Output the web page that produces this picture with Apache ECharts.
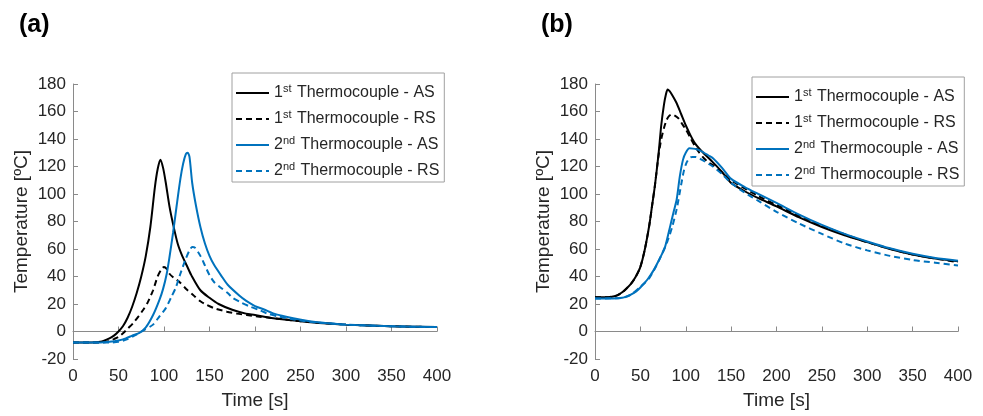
<!DOCTYPE html>
<html>
<head>
<meta charset="utf-8">
<script src="https://cdn.jsdelivr.net/npm/echarts@6/dist/echarts.min.js"></script>
<style>
html,body{margin:0;padding:0;background:#fff;}
#chart{width:983px;height:416px;}
</style>
</head>
<body>
<div id="chart"></div>
<script>
// ---------- Data ----------
const seriesNames = ['1st Thermocouple - AS', '1st Thermocouple - RS', '2nd Thermocouple - AS', '2nd Thermocouple - RS'];
const panelTitles = ['(a)', '(b)'];
const xTicks = { min: 0, max: 400, interval: 50 };
const yTicks = { min: -20, max: 180, interval: 20 };

// Panel (a)
const tA_1AS = [0, 20, 30, 40, 45, 50, 55, 60, 65, 70, 75, 80, 85, 90, 93, 96, 99, 102, 106, 110, 115, 120, 125, 130, 140, 150, 160, 175, 190, 200, 220, 250, 275, 300, 350, 400];
const vA_1AS = [-8, -8, -7.5, -5, -3, 0, 4, 10, 18, 28, 40, 55, 76, 105, 118, 125, 119, 108, 91, 78, 64, 55, 48, 41, 30, 24.5, 20, 15.8, 13, 12, 9.6, 7.5, 6, 5, 3.8, 3.2];

const tA_1RS = [0, 30, 40, 45, 50, 55, 60, 66, 72, 77, 82, 88, 93, 97, 100, 103, 106, 110, 117, 125, 132, 140, 147, 155, 169, 180, 191, 205, 230, 250, 300, 350, 400];
const vA_1RS = [-8, -8, -7, -5.5, -4, -1.3, 2, 6, 11, 15.6, 21, 30, 40, 45, 47, 45.5, 42, 39.5, 36, 30.5, 26.5, 22, 19.3, 17, 14.4, 13, 12, 10.8, 9, 7.5, 5, 3.8, 3.2];

const tA_2AS = [0, 30, 40, 50, 58, 65, 73, 80, 88, 95, 99, 103, 106, 110, 114, 118, 121, 124, 126, 128, 131, 135, 140, 145, 150, 155, 163, 170, 183, 190, 200, 210, 220, 242, 260, 280, 300, 350, 400];
const vA_2AS = [-8, -8, -7.5, -6.5, -5, -3, -1, 3, 12, 23, 31, 42, 54, 72, 92, 111, 122, 129, 130, 127, 108, 92, 76, 64, 55, 48.5, 40.5, 34, 26, 22.5, 18.5, 16, 13.2, 9.6, 7.5, 6, 5, 3.8, 3.2];

const tA_2RS = [0, 40, 50, 60, 69, 78, 88, 95, 102, 108, 113, 118, 124, 128, 131, 134, 140, 145, 150, 155, 161, 170, 176, 185, 195, 205, 213, 225, 240, 260, 280, 300, 350, 400];
const vA_2RS = [-8, -8, -7.5, -5.5, -2.5, 1, 5, 11, 17, 25, 32, 42, 53, 59, 61.5, 61, 55, 48, 41, 36, 32.6, 28, 24.2, 21, 18, 15.5, 13.2, 11, 9, 7, 6, 5, 3.8, 3.2];

// Panel (b)
const tB_1AS = [0, 15, 20, 25, 30, 35, 40, 45, 50, 55, 60, 63, 66, 70, 73, 76, 78, 80, 82, 85, 90, 95, 100, 105, 110, 115, 120, 130, 140, 150, 165, 180, 200, 225, 250, 275, 300, 325, 350, 375, 400];
const vB_1AS = [25, 25, 25.5, 26.5, 28.5, 31.5, 35, 40, 47, 60, 78, 92, 106, 129, 150, 165, 172, 176, 175, 172, 166, 158, 150, 143, 137, 133, 129.5, 123, 116, 108, 102, 97, 91, 83, 76, 70, 65, 60, 56, 53, 51];

const tB_1RS = [0, 15, 20, 25, 30, 35, 40, 45, 50, 55, 60, 63, 66, 70, 73, 76, 79, 82, 85, 88, 92, 96, 100, 105, 110, 115, 120, 125, 130, 140, 150, 180, 200, 250, 300, 350, 400];
const vB_1RS = [25, 25, 25.5, 26.5, 28.5, 31.5, 35, 40, 47, 60, 78, 92, 106, 128, 140, 148, 154, 157, 158, 157, 155, 151, 147, 141, 135, 130, 126, 123, 121, 115.5, 110, 98.5, 92, 77, 65, 56, 50.5];

const tB_2AS = [0, 20, 30, 35, 40, 45, 50, 58, 65, 72, 77, 83, 87, 90, 93.5, 97, 100, 104, 108, 112, 116, 120, 125, 130, 140, 150, 165, 180, 200, 225, 250, 275, 300, 325, 350, 375, 400];
const vB_2AS = [24, 24, 24.5, 25.5, 27, 29, 32, 38, 45, 54, 61, 77, 88, 96, 113, 125, 130, 133.2, 133, 132.5, 131.5, 130, 128, 126, 119, 111, 105, 100, 93.5, 85, 77.5, 71, 65.5, 60.5, 56.5, 53.5, 51.5];

const tB_2RS = [0, 30, 40, 50, 60, 70, 80, 85, 90, 95, 98, 101, 104, 107, 111, 115, 120, 125, 130, 140, 150, 165, 180, 200, 225, 250, 275, 300, 325, 350, 375, 400];
const vB_2RS = [24, 24.5, 27, 32.5, 39, 51, 66, 76, 89, 107, 117, 123, 126, 127, 127, 126, 124, 122, 120, 114.5, 108, 101, 95, 87, 78.5, 71, 64, 59, 55, 52, 50, 48];

// ---------- Build ----------
const BLUE = '#0072BD';
const BLACK = '#000000';
const TXT = '#262626';
const AX = '#8a8a8a';
const FONT = 'Liberation Sans, Arial, sans-serif';

function pairs(t, v) { return t.map((x, i) => [x, v[i]]); }

const panels = [
  [pairs(tA_1AS, vA_1AS), pairs(tA_1RS, vA_1RS), pairs(tA_2AS, vA_2AS), pairs(tA_2RS, vA_2RS)],
  [pairs(tB_1AS, vB_1AS), pairs(tB_1RS, vB_1RS), pairs(tB_2AS, vB_2AS), pairs(tB_2RS, vB_2RS)]
];
const styles = [
  { color: BLACK, type: 'solid' },
  { color: BLACK, type: [6, 4] },
  { color: BLUE, type: 'solid' },
  { color: BLUE, type: [6, 4] }
];

const grids = [
  { left: 73, right: 546, top: 84, bottom: 57 },
  { left: 595, right: 25, top: 84, bottom: 57 }
];

function xAxis(i) {
  return {
    gridIndex: i, type: 'value', min: xTicks.min, max: xTicks.max, interval: xTicks.interval,
    name: 'Time [s]', nameLocation: 'middle', nameGap: 32,
    nameTextStyle: { fontSize: 19, color: TXT, fontFamily: FONT },
    axisLine: { lineStyle: { color: AX, width: 1 } },
    axisTick: { inside: true, length: 5, lineStyle: { color: AX } },
    axisLabel: { fontSize: 17, color: TXT, fontFamily: FONT, margin: 9 },
    splitLine: { show: false }
  };
}
function yAxis(i) {
  return {
    gridIndex: i, type: 'value', min: yTicks.min, max: yTicks.max, interval: yTicks.interval,
    name: 'Temperature [ºC]', nameLocation: 'middle', nameGap: 42,
    nameTextStyle: { fontSize: 19, color: TXT, fontFamily: FONT },
    axisLine: { show: true, lineStyle: { color: AX, width: 1 } },
    axisTick: { show: true, inside: true, length: 5, lineStyle: { color: AX } },
    axisLabel: { fontSize: 17, color: TXT, fontFamily: FONT, margin: 7 },
    splitLine: { show: false }
  };
}

const series = [];
panels.forEach((p, gi) => {
  p.forEach((d, si) => {
    series.push({
      type: 'line', name: seriesNames[si], xAxisIndex: gi, yAxisIndex: gi,
      data: d, showSymbol: false, symbol: 'none', smooth: 0.25,
      lineStyle: { color: styles[si].color, type: styles[si].type, width: 2 },
      itemStyle: { color: styles[si].color },
      animation: false
    });
  });
});

function legend(left, top) {
  return {
    orient: 'vertical', left: left, top: top, data: seriesNames,
    itemWidth: 33, itemHeight: 14, itemGap: 7,
    padding: [10, 5, 2, 3],
    borderColor: '#a0a0a0', borderWidth: 1, backgroundColor: '#fff',
    selectedMode: false,
    itemStyle: { opacity: 0, borderWidth: 0 },
    formatter: function (name) {
      const m = name.match(/^(\d)(st|nd)( .*)$/);
      return m[1] + '{sup|' + m[2] + '}' + m[3];
    },
    textStyle: {
      fontSize: 16, color: TXT, fontFamily: FONT, lineHeight: 18,
      rich: { sup: { fontSize: 11, color: TXT, fontFamily: FONT, padding: [0, 1, 9, 0] } }
    }
  };
}

const option = {
  backgroundColor: '#ffffff',
  animation: false,
  title: [
    { text: panelTitles[0], left: 14, top: 8, textStyle: { fontSize: 25, fontWeight: 'bold', color: '#000', fontFamily: FONT } },
    { text: panelTitles[1], left: 536, top: 8, textStyle: { fontSize: 25, fontWeight: 'bold', color: '#000', fontFamily: FONT } }
  ],
  grid: grids,
  xAxis: [xAxis(0), xAxis(1)],
  yAxis: [yAxis(0), yAxis(1)],
  legend: [legend(232, 73), legend(752, 77)],
  series: series
};

const chart = echarts.init(document.getElementById('chart'), null, { renderer: 'canvas' });
chart.setOption(option);
</script>
</body>
</html>
